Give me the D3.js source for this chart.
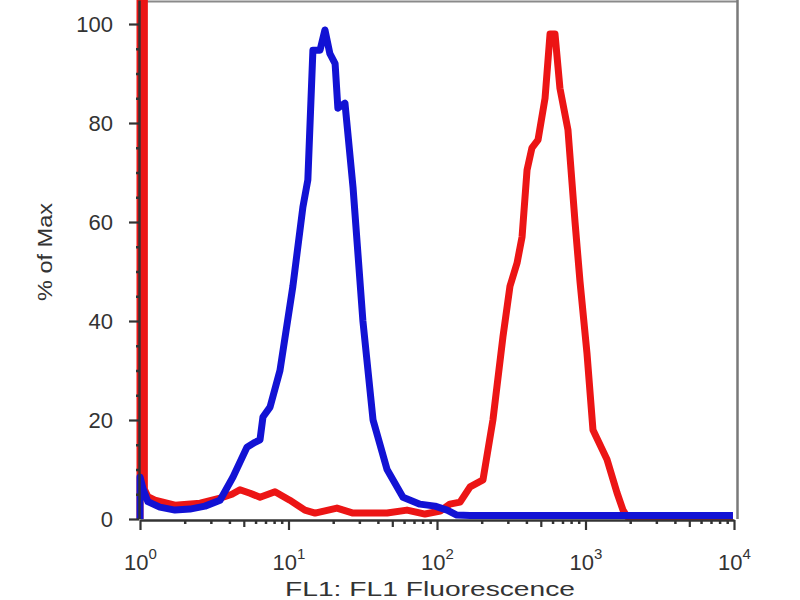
<!DOCTYPE html>
<html>
<head>
<meta charset="utf-8">
<script src="https://cdn.jsdelivr.net/npm/d3@7/dist/d3.min.js"></script>
<style>
  html, body { margin: 0; padding: 0; background: #fff; }
  svg { display: block; }
  text { font-family: "Liberation Sans", Arial, sans-serif; fill: #333; }
</style>
</head>
<body>
<svg id="chart" width="800" height="600"></svg>
<script>
// ---- data ----
const xMajorTicks = [1, 10, 100, 1000, 10000];
const xTickExponents = ["0", "1", "2", "3", "4"];
const yMajorTicks = [0, 20, 40, 60, 80, 100];
const yMinorTicks = [5, 10, 15, 25, 30, 35, 45, 50, 55, 65, 70, 75, 85, 90, 95];
const xLabel = "FL1: FL1 Fluorescence";
const yLabel = "% of Max";

// blue histogram (fluorescence, % of max)
const blueX = [1.00, 1.00, 1.05, 1.13, 1.36, 1.72, 2.17, 2.74, 3.46, 4.23, 5.25, 5.95, 6.43, 6.73, 7.51, 8.76,
  10.7, 12.5, 13.5, 14.6, 16.3, 17.6, 19.0, 20.6, 21.5, 24.0, 27.2, 31.7, 37.1, 46.1, 59.0, 76.8, 97.0,
  117, 136, 167, 9840];
const blueY = [0, 8.5, 6, 3.5, 2.4, 1.8, 2.0, 2.6, 3.8, 8.5, 14.5, 15.5, 16, 20.6, 22.6, 30,
  47, 63, 68.5, 94.7, 94.7, 98.8, 94, 92, 83, 84, 67, 40, 20, 10, 4.4, 3.0, 2.6,
  1.8, 0.8, 0.7, 0.7];

// red histogram (fluorescence, % of max)
const redX = [1.00, 1.00, 1.07, 1.07, 1.13, 1.26, 1.72, 2.54, 3.46, 4.16, 4.71, 5.51, 6.43, 8.11, 10.2, 12.9, 15.1,
  21.2, 27.2, 46.1, 62.8, 83.0, 105, 122, 143, 167, 204, 238, 278, 310, 346, 374, 404, 436, 479, 534,
  577, 623, 673, 762, 850, 918, 1023, 1123, 1396, 1630, 1789, 1904, 9840];
const redY = [0, 200, 200, 6, 4.5, 3.8, 2.8, 3.2, 4.2, 5.0, 5.9, 5.2, 4.4, 5.5, 3.8, 1.8, 1.2,
  2.2, 1.2, 1.2, 1.8, 1.0, 1.6, 3.0, 3.4, 6.5, 7.9, 20, 36.8, 47, 51.7, 57, 70.5, 75, 76.6, 85,
  98, 98, 87, 78.6, 60, 48, 33.5, 18, 12, 5.3, 1.8, 0.5, 0.5];

// ---- layout ----
const svg = d3.select("#chart");
const mLeft = 140, mRight = 734, mBottom = 519, mTop = 0;
const x = d3.scaleLog().domain([1, 10000]).range([mLeft, mRight]);
const y = d3.scaleLinear().domain([0, 104.85]).range([mBottom, mTop]);

// frame (top and right)
svg.append("line").attr("x1", mLeft).attr("x2", 738).attr("y1", 1.5).attr("y2", 1.5)
  .attr("stroke", "#8a8a8a").attr("stroke-width", 2);
svg.append("line").attr("x1", 737.5).attr("x2", 737.5).attr("y1", 0).attr("y2", mBottom)
  .attr("stroke", "#7a7a7a").attr("stroke-width", 2.5);

// clip
svg.append("clipPath").attr("id", "clip").append("rect")
  .attr("x", mLeft - 4).attr("y", 0).attr("width", mRight - mLeft + 8).attr("height", mBottom + 2);

const line = d3.line().x(d => x(d[0])).y(d => y(d[1]));
const red = redX.map((v, i) => [v, redY[i]]);
const blue = blueX.map((v, i) => [v, blueY[i]]);

const plot = svg.append("g").attr("clip-path", "url(#clip)");
plot.append("path").datum(red).attr("d", line)
  .attr("fill", "none").attr("stroke", "#ec1515").attr("stroke-width", 7)
  .attr("stroke-linejoin", "round");
plot.append("path").datum(blue).attr("d", line)
  .attr("fill", "none").attr("stroke", "#1212d4").attr("stroke-width", 7)
  .attr("stroke-linejoin", "round");

// ---- axes ----
function styleAxis(g, w) {
  g.select(".domain").attr("stroke", "#333").attr("stroke-width", w);
  g.selectAll(".tick line").attr("stroke", "#333").attr("stroke-width", 2.2);
}
// y axis
const yMinor = svg.append("g").attr("transform", `translate(${mLeft - 1},0)`)
  .call(d3.axisLeft(y).tickValues(yMinorTicks).tickSize(3).tickFormat(""));
yMinor.select(".domain").remove();
yMinor.selectAll(".tick line").attr("stroke", "#333").attr("stroke-width", 2.5);

const yAx = svg.append("g").attr("transform", `translate(${mLeft - 1},0)`)
  .call(d3.axisLeft(y).tickValues(yMajorTicks).tickSize(10).tickSizeOuter(0).tickPadding(16));
styleAxis(yAx, 2.5);
yAx.selectAll(".tick text").style("font-size", "22px").attr("fill", "#333").attr("dy", "0.36em");

// x axis
const xMinorVals = [], xMidVals = [];
for (let d = 1; d < 10000; d *= 10) {
  for (let k = 2; k <= 9; k++) (k === 5 ? xMidVals : xMinorVals).push(d * k);
}
const xMinor = svg.append("g").attr("transform", `translate(0,${mBottom + 1})`)
  .call(d3.axisBottom(x).tickValues(xMinorVals).tickSize(4).tickFormat(""));
xMinor.select(".domain").remove();
xMinor.selectAll(".tick line").attr("stroke", "#333").attr("stroke-width", 2.5);
const xMid = svg.append("g").attr("transform", `translate(0,${mBottom + 1})`)
  .call(d3.axisBottom(x).tickValues(xMidVals).tickSize(7).tickFormat(""));
xMid.select(".domain").remove();
xMid.selectAll(".tick line").attr("stroke", "#333").attr("stroke-width", 2.2);

const xAx = svg.append("g").attr("transform", `translate(0,${mBottom + 1})`)
  .call(d3.axisBottom(x).tickValues(xMajorTicks).tickSize(10).tickSizeOuter(0).tickFormat(""));
styleAxis(xAx, 2.5);
xAx.selectAll(".tick").each(function(d, i) {
  const t = d3.select(this).append("text")
    .attr("y", 50).attr("text-anchor", "middle").style("font-size", "22px").attr("fill", "#333");
  t.append("tspan").text("10");
  t.append("tspan").attr("dy", "-11").style("font-size", "15px").text(xTickExponents[i]);
});

// axis titles
svg.append("text").attr("x", 430).attr("y", 596).attr("text-anchor", "middle")
  .style("font-size", "21px").attr("textLength", 290).attr("lengthAdjust", "spacingAndGlyphs")
  .text(xLabel);
svg.append("text").attr("transform", "translate(52,252) rotate(-90)").attr("text-anchor", "middle")
  .style("font-size", "20px").attr("textLength", 98).attr("lengthAdjust", "spacingAndGlyphs")
  .text(yLabel);
</script>
</body>
</html>
